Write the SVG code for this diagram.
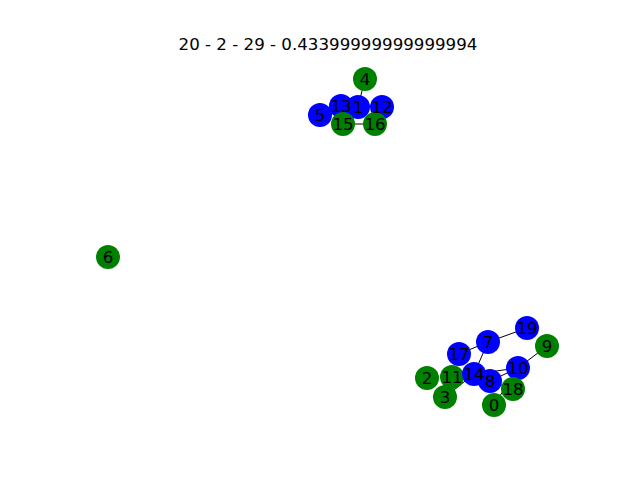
<svg xmlns="http://www.w3.org/2000/svg" width="640" height="480" viewBox="0 0 640 480">
<style>
.b{fill:#0000ff}.g{fill:#008000}
text{font-family:"DejaVu Sans",sans-serif;font-size:16.67px;text-anchor:middle;fill:#000}
.e line{stroke:#000;stroke-width:1}
</style>
<rect width="640" height="480" fill="#fff"/>
<text x="328" y="50">20 - 2 - 29 - 0.43399999999999994</text>
<g class="e" id="edges">
<line x1="365" y1="79" x2="358" y2="107"/>
<line x1="343" y1="124" x2="375" y2="124"/>
<line x1="341" y1="106" x2="358" y2="107"/>
<line x1="488" y1="342" x2="527" y2="328"/>
<line x1="547" y1="346" x2="518" y2="368"/>
<line x1="488" y1="342" x2="459" y2="354"/>
<line x1="488" y1="342" x2="474" y2="374"/>
<line x1="474" y1="374" x2="518" y2="368"/>
<line x1="490" y1="381" x2="518" y2="368"/>
<line x1="490" y1="381" x2="513" y2="389"/>
<line x1="445" y1="397" x2="474" y2="374"/>
<line x1="494" y1="405" x2="518" y2="368"/>
</g>
<g id="nodes">
<g id="n4"><circle class="g" cx="365" cy="79" r="12"/></g>
<g id="n5"><circle class="b" cx="320" cy="115" r="12"/></g>
<g id="n13"><circle class="b" cx="341" cy="106" r="12"/></g>
<g id="n1"><circle class="b" cx="358" cy="107" r="12"/></g>
<g id="n12"><circle class="b" cx="382" cy="107" r="12"/></g>
<g id="n15"><circle class="g" cx="343" cy="124" r="12"/></g>
<g id="n16"><circle class="g" cx="375" cy="124" r="12"/></g>
<g id="n6"><circle class="g" cx="108" cy="257" r="12"/></g>
<g id="n19"><circle class="b" cx="527" cy="328" r="12"/></g>
<g id="n9"><circle class="g" cx="547" cy="346" r="12"/></g>
<g id="n7"><circle class="b" cx="488" cy="342" r="12"/></g>
<g id="n17"><circle class="b" cx="459" cy="354" r="12"/></g>
<g id="n10"><circle class="b" cx="518" cy="368" r="12"/></g>
<g id="n2"><circle class="g" cx="427" cy="378" r="12"/></g>
<g id="n11"><circle class="g" cx="452" cy="377" r="12"/></g>
<g id="n3"><circle class="g" cx="445" cy="397" r="12"/></g>
<g id="n14"><circle class="b" cx="474" cy="374" r="12"/></g>
<g id="n0"><circle class="g" cx="494" cy="405" r="12"/></g>
<g id="n18"><circle class="g" cx="513" cy="389" r="12"/></g>
<g id="n8"><circle class="b" cx="490" cy="381" r="12"/></g>
</g>
<g id="labels">
<text x="365" y="85">4</text>
<text x="320" y="121">5</text>
<text x="341" y="112">13</text>
<text x="358" y="113">1</text>
<text x="382" y="113">12</text>
<text x="343" y="130">15</text>
<text x="375" y="130">16</text>
<text x="108" y="263">6</text>
<text x="527" y="334">19</text>
<text x="547" y="352">9</text>
<text x="488" y="348">7</text>
<text x="459" y="360">17</text>
<text x="518" y="374">10</text>
<text x="427" y="384">2</text>
<text x="452" y="383">11</text>
<text x="445" y="403">3</text>
<text x="474" y="380">14</text>
<text x="494" y="411">0</text>
<text x="513" y="395">18</text>
<text x="490" y="387">8</text>
</g>
</svg>
